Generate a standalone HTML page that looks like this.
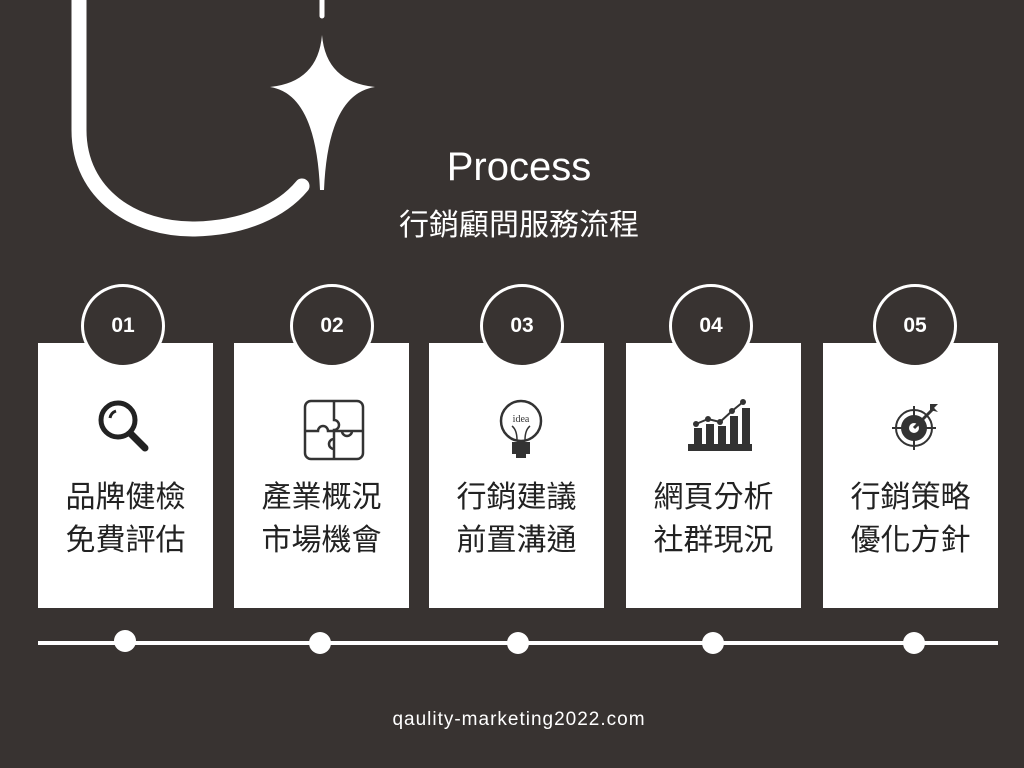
<!DOCTYPE html>
<html><head><meta charset="utf-8"><style>
body{margin:0;width:1024px;height:768px;background:#383331;overflow:hidden;position:relative;font-family:"Liberation Sans","Noto Sans CJK TC",sans-serif}
.card{position:absolute;top:343px;width:175px;height:265px;background:#fff}
.circ{position:absolute;width:78px;height:78px;border:3px solid #fff;border-radius:50%;background:#383331;color:#fff;font-weight:bold;font-size:21px;display:flex;align-items:center;justify-content:center;top:284px}
.txt{position:absolute;top:473px;width:175px;text-align:center;font-size:30px;line-height:43px;color:#222;font-family:"Noto Sans CJK TC",sans-serif}
.ic{position:absolute;top:398px}
.t{position:absolute;color:#fff;text-align:center;width:500px;left:269px}
</style></head><body>
<svg width="1024" height="768" style="position:absolute;left:0;top:0">
<path d="M79 0 V130 C79 195 135 230 195 229 C245 228 282 210 302 186" fill="none" stroke="#fff" stroke-width="15" stroke-linecap="round"/>
<line x1="322" y1="0" x2="322" y2="16" stroke="#fff" stroke-width="5" stroke-linecap="round"/>
<path d="M322 35 Q326 82 375 87 Q328 94 324 190 L320 190 Q316 94 270 87 Q318 82 322 35 Z" fill="#fff"/>
<line x1="38" y1="643" x2="998" y2="643" stroke="#fff" stroke-width="4"/>
<g fill="#fff"><circle cx="125" cy="641" r="11"/><circle cx="320" cy="643" r="11"/><circle cx="518" cy="643" r="11"/><circle cx="713" cy="643" r="11"/><circle cx="914" cy="643" r="11"/></g>
</svg>
<div class="t" style="top:145px;font-size:40px">Process</div>
<div class="t" style="top:200px;font-size:30px;font-family:'Noto Sans CJK TC',sans-serif">行銷顧問服務流程</div>
<div class="t" style="top:709px;font-size:19px;letter-spacing:1px">qaulity-marketing2022.com</div>

<div class="card" style="left:38px"></div><div class="card" style="left:234px"></div><div class="card" style="left:429px"></div><div class="card" style="left:626px"></div><div class="card" style="left:823px"></div>
<div class="circ" style="left:81px">01</div><div class="circ" style="left:290px">02</div><div class="circ" style="left:480px">03</div><div class="circ" style="left:669px">04</div><div class="circ" style="left:873px">05</div>

<svg class="ic" style="left:95px" width="60" height="60"><circle cx="23" cy="22" r="17" fill="none" stroke="#222" stroke-width="5"/><path d="M15 20 A9 9 0 0 1 21 13" stroke="#222" stroke-width="3" fill="none"/><line x1="36" y1="36" x2="50" y2="50" stroke="#222" stroke-width="7" stroke-linecap="round"/></svg>
<svg class="ic" style="left:302px" width="64" height="64"><rect x="3" y="3" width="58" height="58" rx="6" fill="none" stroke="#333" stroke-width="2.5"/><path d="M32 3V22a5 5 0 1 1 0 10V61M3 33H16a5 5 0 1 1 10 0H61M32 33v8a5 5 0 1 0 0 10M32 33h8a5 5 0 1 0 10 0" fill="none" stroke="#333" stroke-width="2.5"/></svg>
<svg class="ic" style="left:496px" width="50" height="64"><circle cx="25" cy="23" r="20" fill="none" stroke="#333" stroke-width="2.5"/><text x="25" y="24" font-size="10" text-anchor="middle" fill="#333" font-family="Liberation Serif">idea</text><path d="M16 28q5 4 5 14M34 28q-5 4-5 14" stroke="#333" fill="none" stroke-width="1.5"/><rect x="16" y="44" width="18" height="12" fill="#333"/><rect x="20" y="56" width="10" height="4" fill="#333"/></svg>
<svg class="ic" style="left:686px" width="70" height="60"><g fill="#333"><rect x="2" y="46" width="64" height="7"/><rect x="8" y="30" width="8" height="16"/><rect x="20" y="26" width="8" height="20"/><rect x="32" y="28" width="8" height="18"/><rect x="44" y="18" width="8" height="28"/><rect x="56" y="10" width="8" height="36"/><circle cx="10" cy="26" r="3"/><circle cx="22" cy="21" r="3"/><circle cx="34" cy="24" r="3"/><circle cx="46" cy="13" r="3"/><circle cx="57" cy="4" r="3"/></g><polyline points="10,26 22,21 34,24 46,13 57,4" fill="none" stroke="#333" stroke-width="2"/></svg>
<svg class="ic" style="left:890px" width="60" height="60"><g stroke="#333" stroke-width="2" fill="none"><circle cx="24" cy="30" r="18"/><line x1="2" y1="30" x2="46" y2="30"/><line x1="24" y1="8" x2="24" y2="52"/></g><circle cx="24" cy="30" r="13" fill="#333"/><circle cx="24" cy="30" r="5" fill="#fff"/><line x1="24" y1="30" x2="44" y2="10" stroke="#333" stroke-width="3"/><path d="M40 6l8 0-4 4 4 4-8-2z" fill="#333"/></svg>

<div class="txt" style="left:38px">品牌健檢<br>免費評估</div>
<div class="txt" style="left:234px">產業概況<br>市場機會</div>
<div class="txt" style="left:429px">行銷建議<br>前置溝通</div>
<div class="txt" style="left:626px">網頁分析<br>社群現況</div>
<div class="txt" style="left:823px">行銷策略<br>優化方針</div>
</body></html>
